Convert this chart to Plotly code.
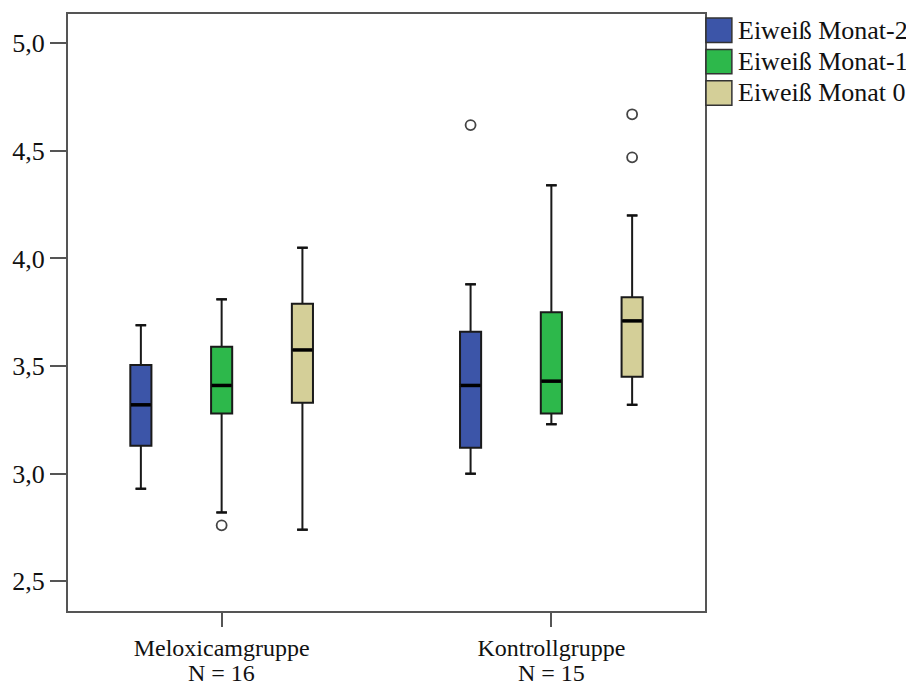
import plotly.graph_objects as go

# ---- data ----
groups = ["Meloxicamgruppe", "Kontrollgruppe"]
n_labels = ["N = 16", "N = 15"]
series = ["Eiweiß Monat-2", "Eiweiß Monat-1", "Eiweiß Monat 0"]

lower_fence = [[2.93, 3.00], [2.82, 3.23], [2.74, 3.32]]
q1_vals = [[3.13, 3.12], [3.28, 3.28], [3.33, 3.45]]
median_vals = [[3.32, 3.41], [3.41, 3.43], [3.575, 3.71]]
q3_vals = [[3.505, 3.66], [3.59, 3.75], [3.79, 3.82]]
upper_fence = [[3.69, 3.88], [3.81, 4.34], [4.05, 4.20]]

outlier_group = [[1], [0], [1, 1]]
outlier_vals = [[4.62], [2.76], [4.67, 4.47]]

y_ticks = [2.5, 3.0, 3.5, 4.0, 4.5, 5.0]

# ---- style ----
colors = ["#3c55a8", "#2db84b", "#d4cf98"]
offsets = [-0.245, 0.0, 0.245]
box_w = 0.064
cap_half = 0.016
FONT = "Liberation Serif"
FS = 26
FSX = 24

# page body has an 8px margin: figure is 906x680 placed at (8, 8)
L, T, PW, PH = 57, 4, 640, 599
W, H = 906, 680

fig = go.Figure()

for s in range(3):
    xs = [g + offsets[s] for g in range(len(groups))]
    fig.add_trace(go.Box(
        x=xs, q1=q1_vals[s], median=median_vals[s], q3=q3_vals[s],
        lowerfence=lower_fence[s], upperfence=upper_fence[s],
        width=box_w, fillcolor=colors[s],
        line=dict(color="#1a1a1a", width=2),
        name=series[s], showlegend=False, hoverinfo="skip",
    ))
    cx, cy, mx, my = [], [], [], []
    for g, x in enumerate(xs):
        for v in (lower_fence[s][g], upper_fence[s][g]):
            cx += [x - cap_half, x + cap_half, None]
            cy += [v, v, None]
        mx += [x - box_w / 2 + 0.002, x + box_w / 2 - 0.002, None]
        my += [median_vals[s][g], median_vals[s][g], None]
    fig.add_trace(go.Scatter(x=cx, y=cy, mode="lines",
                             line=dict(color="#111111", width=2.2),
                             showlegend=False, hoverinfo="skip"))
    fig.add_trace(go.Scatter(x=mx, y=my, mode="lines",
                             line=dict(color="#000000", width=3.5),
                             showlegend=False, hoverinfo="skip"))
    ox = [g + offsets[s] for g in outlier_group[s]]
    fig.add_trace(go.Scatter(x=ox, y=outlier_vals[s], mode="markers",
                             marker=dict(symbol="circle-open", size=10,
                                         color="#444444", line=dict(width=1.8)),
                             showlegend=False, hoverinfo="skip"))


def px_to_paper_x(px):
    return (px - 8 - L) / PW


def px_to_paper_y(py):
    return (T + PH - (py - 8)) / PH


# manual legend (SPSS style)
leg_top = [16, 47.5, 79]
for s in range(3):
    y1 = px_to_paper_y(leg_top[s])
    y0 = px_to_paper_y(leg_top[s] + 24.5)
    fig.add_shape(type="rect", xref="paper", yref="paper",
                  x0=px_to_paper_x(706), x1=px_to_paper_x(732), y0=y0, y1=y1,
                  fillcolor=colors[s], line=dict(color="#333333", width=1.5))
    fig.add_annotation(xref="paper", yref="paper", x=px_to_paper_x(736),
                       y=(y0 + y1) / 2, text=series[s], showarrow=False,
                       xanchor="left", yanchor="middle",
                       font=dict(family=FONT, size=FS, color="#111111"))

for g in range(len(groups)):
    fig.add_annotation(xref="x", yref="paper", x=g, y=px_to_paper_y(688),
                       text=n_labels[g], showarrow=False,
                       xanchor="center", yanchor="bottom",
                       font=dict(family=FONT, size=FSX, color="#111111"))

fig.update_layout(
    width=W, height=H,
    margin=dict(l=L, r=W - L - PW, t=T, b=H - T - PH),
    paper_bgcolor="white", plot_bgcolor="white",
    separators=",.",
    font=dict(family=FONT, size=FS, color="#111111"),
    xaxis=dict(range=[-0.466, 1.466], tickvals=list(range(len(groups))),
               ticktext=groups, ticks="outside", ticklen=14, tickwidth=2,
               tickcolor="#555555", showline=True, mirror=True,
               linecolor="#555555", linewidth=2, showgrid=False,
               zeroline=False, tickfont=dict(family=FONT, size=FSX)),
    yaxis=dict(range=[2.362, 5.136], tickvals=y_ticks, tickformat=".1f",
               ticks="outside", ticklen=16, tickwidth=2, tickcolor="#555555",
               showline=True, mirror=True, linecolor="#555555", linewidth=2,
               showgrid=False, zeroline=False,
               tickfont=dict(family=FONT, size=FS)),
)

fig.write_html("out.html")
